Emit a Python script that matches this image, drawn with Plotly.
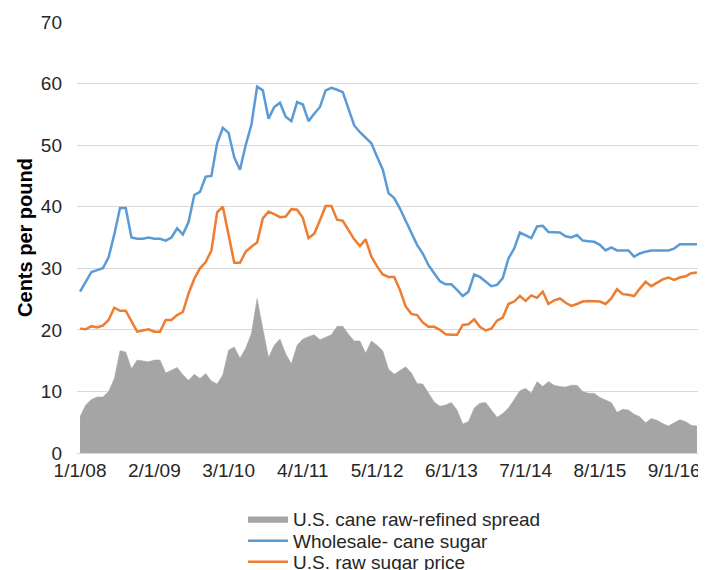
import plotly.graph_objects as go
import pandas as pd

# Monthly categories Jan 2008 .. Jan 2017
months = [f"{d.month}/1/{d.strftime('%y')}" for d in pd.date_range("2008-01-01", periods=109, freq="MS")]
tick_labels = ["1/1/08", "2/1/09", "3/1/10", "4/1/11", "5/1/12", "6/1/13", "7/1/14", "8/1/15", "9/1/16"]

wholesale = [
    26.2, 27.8, 29.4, 29.7, 30.0, 31.8, 35.5, 39.8, 39.8, 35.0,
    34.8, 34.8, 35.0, 34.8, 34.8, 34.5, 35.0, 36.5, 35.5, 37.5,
    41.9, 42.4, 44.9, 45.0, 50.3, 52.8, 52.0, 48.0, 46.0, 50.0,
    53.3, 59.5, 58.9, 54.3, 56.2, 56.9, 54.6, 53.9, 57.0, 56.6,
    53.9, 55.1, 56.2, 58.9, 59.3, 59.0, 58.6, 55.9, 53.2, 52.1,
    51.2, 50.3, 48.1, 46.0, 42.2, 41.4, 39.7, 37.8, 35.7, 33.8,
    32.4, 30.5, 29.2, 27.9, 27.4, 27.4, 26.5, 25.5, 26.2, 29.0,
    28.6, 27.9, 27.1, 27.3, 28.4, 31.6, 33.2, 35.8, 35.4, 34.9,
    36.8, 36.9, 35.9, 35.9, 35.8, 35.2, 35.0, 35.4, 34.5, 34.4,
    34.3, 33.8, 32.9, 33.4, 32.9, 32.9, 32.9, 31.9, 32.4, 32.7,
    32.9, 32.9, 32.9, 32.9, 33.2, 33.9, 33.9, 33.9, 33.9,
]

raw = [
    20.2, 20.1, 20.6, 20.4, 20.7, 21.6, 23.6, 23.1, 23.1, 21.4,
    19.7, 19.9, 20.1, 19.7, 19.7, 21.6, 21.6, 22.4, 22.9, 25.9,
    28.3, 30.0, 31.0, 32.9, 39.1, 40.0, 35.5, 30.9, 30.9, 32.7,
    33.5, 34.2, 38.1, 39.2, 38.8, 38.3, 38.4, 39.6, 39.5, 38.2,
    34.9, 35.6, 37.8, 40.1, 40.1, 37.9, 37.7, 36.2, 34.7, 33.6,
    34.7, 31.9, 30.3, 29.0, 28.6, 28.6, 26.5, 23.8, 22.6, 22.4,
    21.2, 20.5, 20.5, 20.0, 19.3, 19.2, 19.2, 20.8, 20.9, 21.7,
    20.5, 19.9, 20.2, 21.5, 22.0, 24.2, 24.6, 25.5, 24.7, 25.6,
    25.2, 26.2, 24.2, 24.8, 25.1, 24.4, 23.9, 24.2, 24.6, 24.7,
    24.7, 24.6, 24.2, 25.1, 26.6, 25.8, 25.7, 25.5, 26.7, 27.8,
    27.1, 27.7, 28.2, 28.5, 28.1, 28.5, 28.7, 29.2, 29.3,
]

spread = [
    5.9, 7.8, 8.7, 9.1, 9.1, 10.0, 12.1, 16.6, 16.4, 13.7,
    15.1, 14.9, 14.8, 15.1, 15.1, 13.0, 13.4, 13.9, 12.7, 11.8,
    12.8, 12.1, 12.9, 11.7, 11.2, 12.7, 16.7, 17.2, 15.4, 17.0,
    19.4, 25.1, 20.2, 15.5, 17.5, 18.5, 16.1, 14.5, 17.5, 18.5,
    18.9, 19.2, 18.4, 18.8, 19.2, 20.6, 20.6, 19.3, 18.2, 18.2,
    16.2, 18.2, 17.5, 16.6, 13.6, 12.8, 13.4, 14.0, 13.0, 11.3,
    11.2, 9.7, 8.3, 7.6, 7.8, 8.2, 7.0, 4.7, 5.1, 7.3,
    8.1, 8.2, 7.0, 5.8, 6.4, 7.3, 8.7, 10.1, 10.5, 9.7,
    11.6, 10.8, 11.6, 11.0, 10.8, 10.7, 11.0, 11.0, 10.0, 9.7,
    9.7, 9.0, 8.6, 8.2, 6.6, 7.1, 7.0, 6.3, 5.9, 4.9,
    5.6, 5.3, 4.8, 4.4, 4.9, 5.4, 5.1, 4.5, 4.4,
]

FONT = "Liberation Sans, Arial, sans-serif"

fig = go.Figure()
fig.add_trace(go.Scatter(
    x=months, y=spread, name="U.S. cane raw-refined spread", legend="legend",
    mode="lines", fill="tozeroy", fillcolor="#A5A5A5",
    line=dict(color="#A5A5A5", width=0.5),
))
fig.add_trace(go.Scatter(
    x=months, y=wholesale, name="Wholesale- cane sugar", legend="legend2",
    mode="lines", line=dict(color="#5B9BD5", width=2.5),
))
fig.add_trace(go.Scatter(
    x=months, y=raw, name="U.S. raw sugar price", legend="legend3",
    mode="lines", line=dict(color="#ED7D31", width=2.5),
))

def leg(y):
    return dict(
        orientation="v", xref="paper", yref="paper",
        x=0.2664, xanchor="left", y=y, yanchor="middle",
        font=dict(size=19, color="#262626", family=FONT),
        bgcolor="rgba(0,0,0,0)", itemwidth=40,
    )

# The page body adds an 8px offset, so the figure is sized to fit the window.
fig.update_layout(
    width=698, height=562,
    margin=dict(l=69, r=6, t=14, b=117, autoexpand=False),
    paper_bgcolor="white", plot_bgcolor="white",
    font=dict(family=FONT, size=19, color="#262626"),
    showlegend=True,
    legend=leg(-0.1531),
    legend2=leg(-0.2042),
    legend3=leg(-0.2529),
    xaxis=dict(
        type="category", range=[-0.53, 108.53],
        tickmode="array", tickvals=tick_labels, ticktext=tick_labels,
        tickangle=0, automargin=False,
        showgrid=False, showline=True, linecolor="#D9D9D9", linewidth=1,
        ticks="", tickfont=dict(size=19), zeroline=False,
    ),
    yaxis=dict(
        range=[0, 70], dtick=10, showgrid=True, gridcolor="#D9D9D9", gridwidth=1,
        zeroline=False, showline=False, ticks="", tickfont=dict(size=19),
        ticklabelstandoff=14, automargin=False,
        title=dict(text="<b>Cents per pound</b>", font=dict(size=20, color="#000000"), standoff=2),
    ),
)

fig.write_html("out.html")
